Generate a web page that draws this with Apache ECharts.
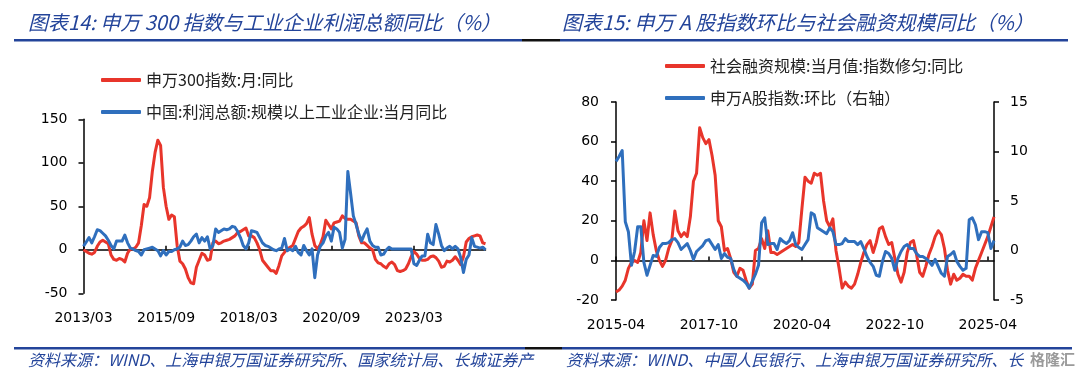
<!DOCTYPE html>
<html>
<head>
<meta charset="utf-8">
<script src="https://cdn.jsdelivr.net/npm/echarts@6/dist/echarts.min.js"></script>
<style>
html,body{margin:0;padding:0;background:#fff;}
#c{width:1080px;height:379px;}
</style>
</head>
<body>
<div id="c"></div>
<script>
// ---------- data ----------
const title1 = '图表14: 申万 300 指数与工业企业利润总额同比（%）';
const title2 = '图表15: 申万 A 股指数环比与社会融资规模同比（%）';
const source1 = '资料来源：WIND、上海申银万国证券研究所、国家统计局、长城证券产';
const source2 = '资料来源：WIND、中国人民银行、上海申银万国证券研究所、长';
const watermark = '格隆汇';

const leftName1 = '申万300指数:月:同比';
const leftName2 = '中国:利润总额:规模以上工业企业:当月同比';
const rightName1 = '社会融资规模:当月值:指数修匀:同比';
const rightName2 = '申万A股指数:环比（右轴）';

// left chart: monthly, 2013/03 .. 2025/05
const leftStart = [2013, 3];
const leftCount = 147;
const leftRed = [0,-2,-4,-5,-3,4,9,11,9,7,-6,-11,-12,-10,-11,-14,-4,1,1,3,8,28,52,50,60,90,112,126,120,72,50,35,40,38,5,-13,-16,-22,-32,-38,-39,-20,-12,-4,-6,-12,-11,8,10,7,8,10,11,12,14,16,20,21,23,25,16,16,14,8,0,-12,-16,-20,-24,-24,-27,-18,-7,-3,1,3,5,13,21,25,27,30,37,18,5,1,6,15,34,29,24,31,32,33,39,36,35,35,33,31,16,8,8,5,2,0,-11,-15,-16,-19,-21,-16,-14,-17,-24,-25,-24,-22,-16,-8,-2,-5,-10,-12,-12,-11,-8,-7,-9,-13,-20,-19,-13,-14,-12,-8,-12,-17,-8,9,13,15,16,17,16,8,7];
const leftBlue = [4,9,14,8,15,23,22,19,16,11,5,1,10,10,10,17,8,2,1,-1,-2,-6,0,1,2,3,1,-1,-7,-1,-6,-2,-2,0,1,3,10,5,6,10,15,18,8,14,10,15,1,5,24,20,22,24,23,24,27,26,21,14,5,1,8,22,21,20,14,8,5,4,2,0,-1,1,2,13,-1,1,-1,4,-3,-6,5,-1,-6,1,-32,-6,4,8,16,20,10,26,24,20,2,12,90,65,39,29,18,10,18,24,10,5,3,3,-6,-5,0,3,1,1,1,1,1,1,1,1,-16,-18,-12,-7,-7,18,8,6,29,18,5,-1,2,4,1,4,1,-9,-26,-11,-6,14,4,3,2,3,0];

// right chart: monthly, 2015-04 .. 2025-06
const rightStart = [2015, 4];
const rightCount = 123;
const rightRed = [-16,-15,-13,-10,-4,-1,0,-1,4,20,10,24,13,5,0,-3,0,6,10,25,15,12,14,12,22,40,44,67,62,59,61,53,43,20,17,5,6,1,-6,-8,-4,-5,-10,-14,-12,5,6,11,6,15,4,4,3,4,5,6,7,8,7,9,26,42,40,39,44,43,44,30,20,17,21,5,-4,-14,-11,-13,-14,-12,-7,-1,4,8,10,4,9,16,17,12,8,9,1,-7,-11,-6,4,9,10,3,-6,-8,-3,3,7,12,15,13,6,-5,-12,-7,-10,-9,-7,-8,-8,-10,-4,0,4,8,12,17,22];
const rightBlue = [9.0,9.5,10.1,2.9,1.9,-1.5,-0.1,2.4,2.4,-1.2,-2.5,-1.5,-0.5,-0.6,0.3,0.7,0.7,0.8,1.1,1.2,0.8,0.1,0.4,0.7,0.0,-0.9,-0.1,0.2,0.5,1.0,1.1,0.6,0.1,0.6,-0.8,-0.3,-0.7,-0.8,-1.9,-2.6,-2.8,-3.0,-3.3,-3.8,-3.1,-2.4,-1.5,2.8,3.3,0.6,0.7,0.7,0.1,1.2,0.9,0.7,1.0,1.8,0.6,0.3,0.1,0.6,1.1,3.8,3.6,2.3,2.1,1.9,1.7,2.3,1.9,0.6,0.6,0.7,1.2,0.9,0.9,0.9,0.6,0.9,0.2,-0.6,-1.2,-1.6,-2.5,-2.6,-1.1,-0.1,-0.3,-0.8,-2.0,-0.8,-0.1,0.4,0.6,0.2,0.2,-0.3,-0.6,-0.6,-0.8,-1.1,-1.5,-0.9,-1.6,-2.3,-2.6,-0.6,-0.4,-0.1,-1.1,-1.6,-2.0,-1.8,3.1,3.3,2.6,1.1,1.9,1.9,1.8,0.2,1.0];

function months(start, n, sep) {
  const out = [];
  let y = start[0], m = start[1];
  for (let i = 0; i < n; i++) {
    out.push(y + sep + (m < 10 ? '0' + m : '' + m));
    m++; if (m > 12) { m = 1; y++; }
  }
  return out;
}
const leftCats = months(leftStart, leftCount, '/');
const rightCats = months(rightStart, rightCount, '-');

// ---------- styles ----------
const RED = '#e8352b';
const BLUE = '#2f6fbd';
const NAVY = '#23449a';
const TICK_FONT = 'DejaVu Sans';
const CJK = '"Noto Sans CJK SC", "Noto Sans", sans-serif';

const axisLineStyle = { color: '#000', width: 1.5 };

function labelAxis(gridIndex, cats) {
  return {
    type: 'category', gridIndex, data: cats, boundaryGap: false,
    axisLine: { show: false, onZero: false }, axisTick: { show: false },
    axisLabel: { interval: 29, margin: 18, color: '#000', fontFamily: TICK_FONT, fontSize: 14 },
    splitLine: { show: false }
  };
}
function zeroAxis(gridIndex, cats, zeroIdx) {
  return {
    type: 'category', gridIndex, data: cats, boundaryGap: false,
    axisLine: { show: true, onZero: true, onZeroAxisIndex: zeroIdx, lineStyle: axisLineStyle },
    axisTick: { show: true, interval: 29, length: 4, lineStyle: axisLineStyle },
    axisLabel: { show: false }, splitLine: { show: false }
  };
}
function valAxis(gridIndex, min, max, interval, position, margin) {
  return {
    type: 'value', gridIndex, min, max, interval, position,
    axisLine: { show: true, onZero: false, lineStyle: axisLineStyle },
    axisTick: { show: true, length: 5, lineStyle: axisLineStyle },
    axisLabel: { color: '#000', fontFamily: TICK_FONT, fontSize: 14, margin },
    splitLine: { show: false }
  };
}
function lineSeries(name, data, color, xi, yi, z) {
  return {
    name, type: 'line', data, xAxisIndex: xi, yAxisIndex: yi,
    showSymbol: false, symbol: 'none', z,
    lineStyle: { color, width: 3, join: 'round' }, itemStyle: { color },
    emphasis: { disabled: true }, animation: false
  };
}

const legendText = { fontFamily: CJK, fontSize: 16, color: '#222', lineHeight: 20 };

const chart = echarts.init(document.getElementById('c'), null, { renderer: 'canvas' });
chart.setOption({
  backgroundColor: '#fff',
  animation: false,
  grid: [
    { left: 83.5, top: 119.3, width: 402, height: 174 },
    { left: 616, top: 102, width: 378, height: 198 }
  ],
  xAxis: [
    labelAxis(0, leftCats),
    zeroAxis(0, leftCats, 0),
    labelAxis(1, rightCats),
    zeroAxis(1, rightCats, 1)
  ],
  yAxis: [
    valAxis(0, -50, 150, 50, 'left', 16),
    valAxis(1, -20, 80, 20, 'left', 17),
    valAxis(1, -5, 15, 5, 'right', 16)
  ],
  legend: [
    { orient: 'vertical', left: 96, top: 65, itemWidth: 40, itemHeight: 4, icon: 'roundRect', itemGap: 12,
      textStyle: legendText, data: [leftName1, leftName2] },
    { orient: 'vertical', left: 660, top: 51, itemWidth: 40, itemHeight: 4, icon: 'roundRect', itemGap: 12,
      textStyle: legendText, data: [rightName1, rightName2] }
  ],
  series: [
    lineSeries(leftName1, leftRed, RED, 0, 0, 3),
    lineSeries(leftName2, leftBlue, BLUE, 0, 0, 4),
    lineSeries(rightName1, rightRed, RED, 2, 1, 3),
    lineSeries(rightName2, rightBlue, BLUE, 2, 2, 4)
  ],
  graphic: [
    { type: 'text', left: 28, top: 12, style: { text: title1, fill: NAVY, font: 'italic 20px ' + CJK } },
    { type: 'text', left: 562, top: 12, style: { text: title2, fill: NAVY, font: 'italic 20px ' + CJK } },
    { type: 'rect', shape: { x: 14, y: 39, width: 508, height: 2.5 }, style: { fill: NAVY } },
    { type: 'rect', shape: { x: 522, y: 39, width: 38, height: 2.5 }, style: { fill: '#111' } },
    { type: 'rect', shape: { x: 560, y: 39, width: 508, height: 2.5 }, style: { fill: NAVY } },
    { type: 'rect', shape: { x: 14, y: 347, width: 511, height: 2.5 }, style: { fill: NAVY } },
    { type: 'rect', shape: { x: 525, y: 347, width: 37, height: 2.5 }, style: { fill: '#111' } },
    { type: 'rect', shape: { x: 562, y: 347, width: 510, height: 2.5 }, style: { fill: NAVY } },
    { type: 'text', left: 28, top: 352, style: { text: source1, fill: NAVY, font: 'italic 16px ' + CJK } },
    { type: 'text', left: 566, top: 352, style: { text: source2, fill: NAVY, font: 'italic 16px ' + CJK } },
    { type: 'text', left: 1030, top: 352, style: { text: watermark, fill: '#9a9a9a', font: 'bold 15px ' + CJK } }
  ]
});
</script>
</body>
</html>
